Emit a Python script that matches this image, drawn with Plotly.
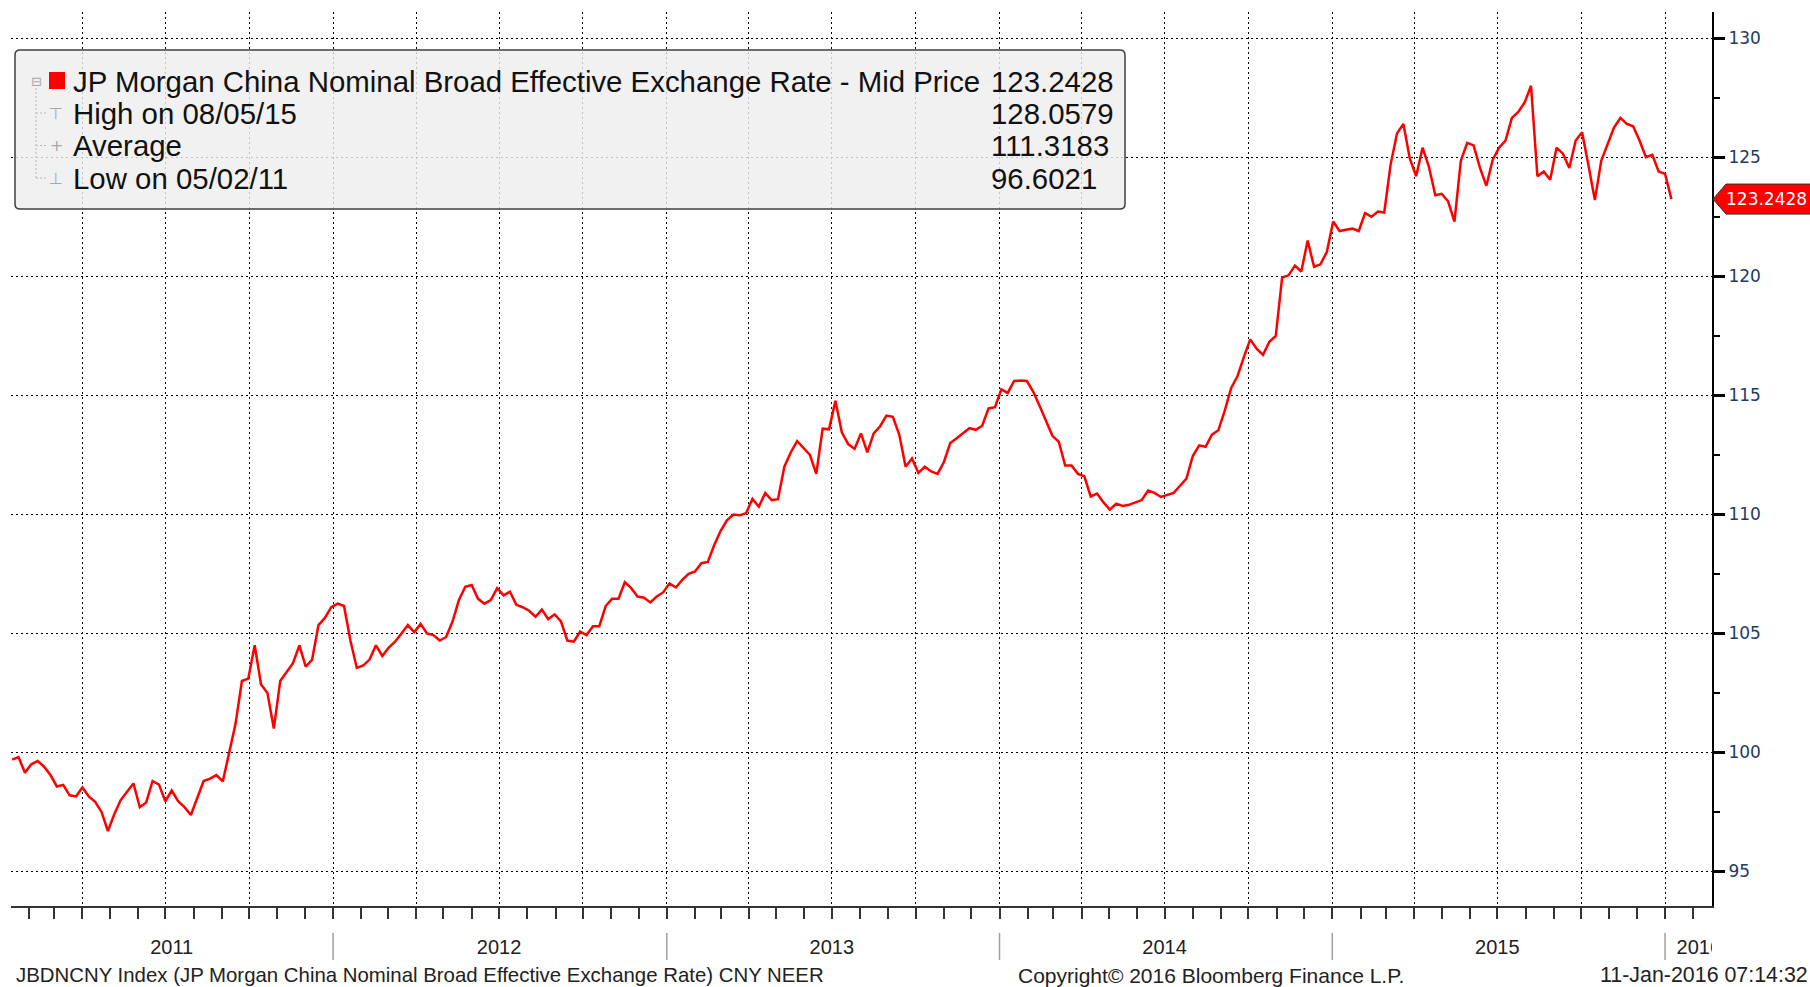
import pandas as pd
import plotly.graph_objects as go

# ---------------- data (weekly readings, Fridays) ----------------
dates = pd.date_range("2011-01-14", periods=261, freq="W-FRI")
values = [
    99.70, 99.80, 99.15, 99.50, 99.64, 99.40, 99.05, 98.57, 98.64, 98.20,
    98.15, 98.53, 98.15, 97.93, 97.50, 96.70, 97.40, 98.00, 98.35, 98.70,
    97.70, 97.90, 98.80, 98.65, 97.95, 98.40, 97.95, 97.70, 97.37, 98.10,
    98.80, 98.90, 99.05, 98.78, 99.95, 101.20, 103.00, 103.10, 104.50, 102.85,
    102.50, 101.00, 103.00, 103.40, 103.75, 104.50, 103.60, 103.90, 105.35, 105.65,
    106.10, 106.25, 106.15, 104.70, 103.55, 103.65, 103.90, 104.50, 104.05, 104.40,
    104.65, 105.00, 105.35, 105.05, 105.40, 105.00, 104.93, 104.70, 104.85, 105.50,
    106.40, 106.96, 107.03, 106.45, 106.25, 106.40, 106.90, 106.60, 106.75, 106.20,
    106.10, 105.95, 105.70, 106.00, 105.60, 105.80, 105.50, 104.70, 104.65, 105.07,
    104.93, 105.30, 105.30, 106.15, 106.45, 106.45, 107.15, 106.90, 106.55, 106.50,
    106.30, 106.55, 106.72, 107.10, 106.93, 107.25, 107.50, 107.60, 107.95, 108.00,
    108.70, 109.30, 109.75, 109.99, 109.96, 110.05, 110.65, 110.32, 110.90, 110.60,
    110.64, 112.00, 112.60, 113.08, 112.80, 112.50, 111.70, 113.60, 113.57, 114.77,
    113.45, 112.95, 112.75, 113.40, 112.60, 113.40, 113.70, 114.15, 114.10, 113.35,
    112.00, 112.35, 111.74, 112.00, 111.80, 111.70, 112.20, 113.00, 113.20, 113.40,
    113.62, 113.55, 113.72, 114.45, 114.50, 115.25, 115.10, 115.60, 115.62, 115.60,
    115.15, 114.55, 113.90, 113.30, 113.05, 112.05, 112.05, 111.70, 111.60, 110.75,
    110.87, 110.50, 110.20, 110.45, 110.35, 110.40, 110.50, 110.60, 111.00, 110.90,
    110.73, 110.80, 110.90, 111.20, 111.50, 112.45, 112.90, 112.84, 113.35, 113.53,
    114.35, 115.30, 115.80, 116.60, 117.35, 116.96, 116.70, 117.25, 117.50, 119.95,
    120.04, 120.45, 120.20, 121.50, 120.40, 120.50, 121.02, 122.30, 121.90, 121.95,
    122.00, 121.90, 122.65, 122.50, 122.72, 122.68, 124.70, 126.00, 126.40, 124.95,
    124.20, 125.40, 124.60, 123.40, 123.46, 123.15, 122.30, 124.85, 125.60, 125.50,
    124.55, 123.80, 124.90, 125.40, 125.70, 126.65, 126.90, 127.30, 128.00, 124.20,
    124.40, 124.05, 125.40, 125.15, 124.55, 125.70, 126.05, 124.65, 123.20, 124.85,
    125.55, 126.25, 126.65, 126.40, 126.30, 125.70, 125.00, 125.10, 124.40, 124.30,
    123.2428,
]
last_value = 123.2428

x_range = ["2011-01-12 17:00", "2016-02-21 12:00"]
y_range = [93.55, 131.1]

year_label_dates = ["2011-07-08", "2012-07-01", "2013-07-01", "2014-07-01",
                    "2015-07-01", "2016-02-07"]
year_labels = ["2011", "2012", "2013", "2014", "2015", "2016"]
year_starts = ["2012-01-01", "2013-01-01", "2014-01-01", "2015-01-01", "2016-01-01"]

legend_labels = ["JP Morgan China Nominal Broad Effective Exchange Rate - Mid Price",
                 "High on 08/05/15", "Average", "Low on 05/02/11"]
legend_values = ["123.2428", "128.0579", "111.3183", "96.6021"]
legend_icons = ["\u229f", "\u22a4", "+", "\u22a5"]

footer_left = "JBDNCNY Index (JP Morgan China Nominal Broad Effective Exchange Rate) CNY NEER"
footer_mid = "Copyright\u00a9 2016 Bloomberg Finance L.P."
footer_right = "11-Jan-2016 07:14:32"

# ---------------- figure ----------------
W, H = 1810, 987
ML, MR, MT, MB = 11, 98, 12, 81
TXT = "Liberation Sans, Arial, sans-serif"

fig = go.Figure()
fig.add_trace(go.Scatter(x=dates, y=values, mode="lines",
                         line=dict(color="#ff0000", width=2.5),
                         showlegend=False, name="JBDNCNY"))
fig.add_trace(go.Scatter(x=[dates[0]], y=[None], xaxis="x2", yaxis="y",
                         showlegend=False, hoverinfo="skip"))

dots = "2px,3px"
fig.update_layout(
    width=W, height=H,
    margin=dict(l=ML, r=MR, t=MT, b=MB, pad=0),
    paper_bgcolor="white", plot_bgcolor="white",
    showlegend=False,
    xaxis=dict(type="date", range=x_range, showgrid=True, gridcolor="black",
               griddash=dots, gridwidth=1.4, dtick="M3", tick0="2011-01-01",
               ticks="outside", ticklen=11, tickwidth=1.5, tickcolor="#333",
               showticklabels=False, showline=True, linecolor="#333", linewidth=2,
               zeroline=False, automargin=False,
               minor=dict(dtick="M1", tick0="2011-01-01", ticks="outside",
                          ticklen=11, tickwidth=1.5, tickcolor="#333",
                          showgrid=False)),
    xaxis2=dict(type="date", overlaying="x", anchor="y", side="bottom",
                range=x_range, tickmode="array", tickvals=year_label_dates,
                ticktext=year_labels, ticks="", showgrid=False, showline=False,
                zeroline=False, ticklabelstandoff=27, automargin=False,
                tickfont=dict(family=TXT, size=20, color="#222")),
    yaxis=dict(side="right", range=y_range, dtick=5, tick0=95, showgrid=True,
               gridcolor="black", griddash=dots, gridwidth=1.4,
               ticks="outside", ticklen=11, tickwidth=3, tickcolor="black",
               showline=True, linecolor="black", linewidth=2, zeroline=False,
               automargin=False,
               tickfont=dict(family="DejaVu Sans, Verdana, sans-serif", size=17,
                             color="#1f3a64"),
               minor=dict(dtick=2.5, tick0=95, ticks="outside", ticklen=6,
                          tickwidth=1.5, tickcolor="black", showgrid=False)),
)

# year separators below the axis
for d in year_starts:
    fig.add_shape(type="line", xref="x", yref="paper", x0=d, x1=d,
                  y0=-27 / 894, y1=-54 / 894, line=dict(color="#a0a0a0", width=1.5))

# cover that clips the last year label at the right axis
fig.add_shape(type="rect", xref="paper", yref="paper", x0=1.0, x1=1.06,
              y0=-0.0347, y1=-0.064, fillcolor="white", line=dict(width=0),
              layer="above")

# legend box (rounded), anchored at plot top-left in pixels
x0, x1, yt, yb, r = 4, 1114, -38, -197, 5
box = (f"M{x0+r},{yt} L{x1-r},{yt} Q{x1},{yt} {x1},{yt-r} L{x1},{yb+r} "
       f"Q{x1},{yb} {x1-r},{yb} L{x0+r},{yb} Q{x0},{yb} {x0},{yb+r} "
       f"L{x0},{yt-r} Q{x0},{yt} {x0+r},{yt} Z")
fig.add_shape(type="path", xref="paper", yref="paper", xsizemode="pixel",
              ysizemode="pixel", xanchor=0, yanchor=1, path=box,
              fillcolor="rgba(238,238,238,0.82)", line=dict(color="#404040", width=1.5),
              layer="above")
# red series marker
fig.add_shape(type="rect", xref="paper", yref="paper", xsizemode="pixel",
              ysizemode="pixel", xanchor=0, yanchor=1, x0=38, x1=54, y0=-60, y1=-77,
              fillcolor="#ff0000", line=dict(width=0), layer="above")
# tree connectors
fig.add_shape(type="line", xref="paper", yref="paper", xsizemode="pixel",
              ysizemode="pixel", xanchor=0, yanchor=1, x0=25, x1=25, y0=-76, y1=-166,
              line=dict(color="#b8b8b8", width=1, dash="2px,2px"), layer="above")
for row_y in (101, 133.5, 166):
    fig.add_shape(type="line", xref="paper", yref="paper", xsizemode="pixel",
                  ysizemode="pixel", xanchor=0, yanchor=1, x0=25, x1=36,
                  y0=-row_y, y1=-row_y,
                  line=dict(color="#b8b8b8", width=1, dash="2px,2px"), layer="above")

row_ys = [69, 101, 133.5, 166]
for i, (lab, val, ic) in enumerate(zip(legend_labels, legend_values, legend_icons)):
    fig.add_annotation(xref="paper", yref="paper", x=0, y=1, xanchor="left",
                       yanchor="middle", xshift=60, yshift=-row_ys[i], text=lab,
                       showarrow=False, font=dict(family=TXT, size=29.4, color="#111"))
    fig.add_annotation(xref="paper", yref="paper", x=0, y=1, xanchor="left",
                       yanchor="middle", xshift=978, yshift=-row_ys[i], text=val,
                       showarrow=False, font=dict(family=TXT, size=29.4, color="#111"))
    fig.add_annotation(xref="paper", yref="paper", x=0, y=1, xanchor="center",
                       yanchor="middle", xshift=(25 if i == 0 else 45),
                       yshift=-row_ys[i], text=ic, showarrow=False,
                       font=dict(family="DejaVu Sans", size=(13 if i == 0 else 16),
                                 color="#a8a8a8"))

# last value tag on the right axis
fig.add_shape(type="path", xref="paper", yref="y", xsizemode="pixel",
              ysizemode="pixel", xanchor=1, yanchor=last_value,
              path="M1,0 L14,15 L120,15 L120,-15 L14,-15 Z",
              fillcolor="#ff0000", line=dict(color="#303030", width=1), layer="above")
fig.add_annotation(xref="paper", yref="y", x=1, y=last_value, xanchor="left",
                   yanchor="middle", xshift=12, text=f"{last_value:.4f}",
                   showarrow=False,
                   font=dict(family="DejaVu Sans, Verdana, sans-serif", size=17,
                             color="white"))

# footer
fig.add_annotation(xref="paper", yref="paper", x=0, y=0, xanchor="left",
                   yanchor="middle", xshift=3, yshift=-69, text=footer_left,
                   showarrow=False, font=dict(family=TXT, size=20.4, color="#222"))
fig.add_annotation(xref="paper", yref="paper", x=0, y=0, xanchor="left",
                   yanchor="middle", xshift=1005, yshift=-69, text=footer_mid,
                   showarrow=False, font=dict(family=TXT, size=21, color="#222"))
fig.add_annotation(xref="paper", yref="paper", x=1, y=0, xanchor="right",
                   yanchor="middle", xshift=MR, yshift=-69, text=footer_right,
                   showarrow=False, font=dict(family=TXT, size=21.4, color="#222"))

fig.write_html("out.html", config={"displayModeBar": False},
               post_script="document.body.style.margin='0';")
